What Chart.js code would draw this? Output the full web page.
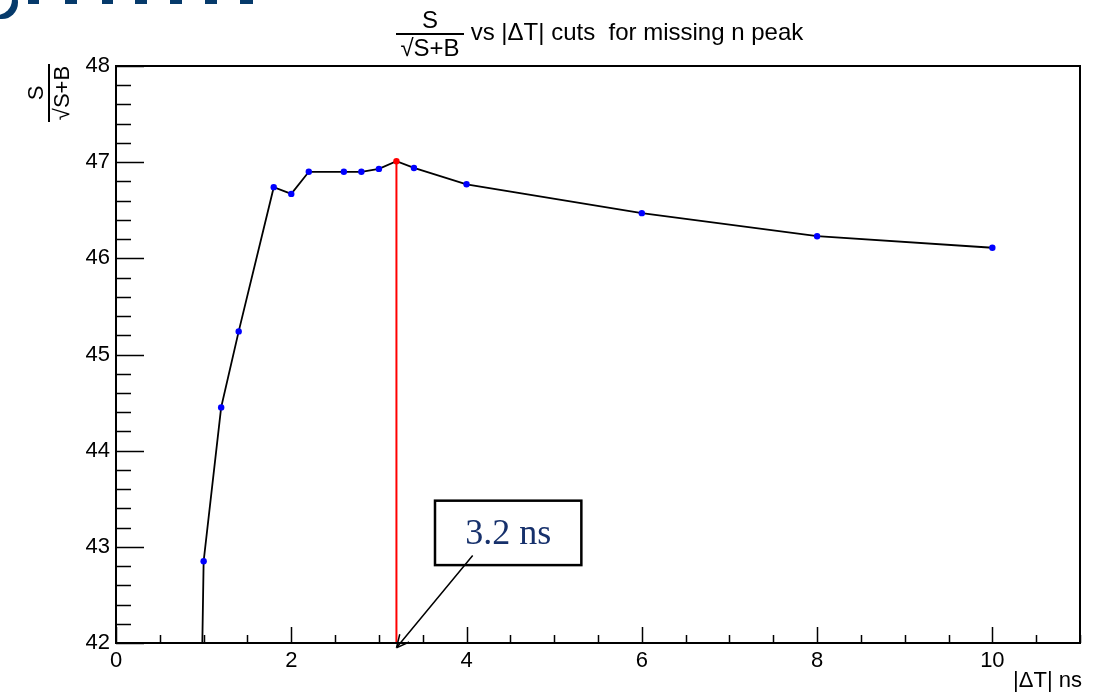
<!DOCTYPE html>
<html>
<head>
<meta charset="utf-8">
<script src="https://cdn.jsdelivr.net/npm/chart.js@4.4.1/dist/chart.umd.min.js"></script>
<style>
  html, body { margin: 0; padding: 0; background: #fff; }
  #wrap { position: relative; width: 1109px; height: 694px; overflow: hidden; font-family: "Liberation Sans", Arial, sans-serif; }
  #chart { position: absolute; left: 0; top: 0; }
  .frac { display: inline-flex; flex-direction: column; align-items: center; vertical-align: middle; line-height: 1; }
  .frac .num { padding: 0 2px 1px; border-bottom: 2px solid #000; width: 100%; text-align: center; }
  .frac .den { padding-top: 1px; }
  #title { position: absolute; left: 396px; top: 8px; font-size: 24px; white-space: pre; color: #000; }
  #title .frac { font-size: 24px; width: 68px; }
  #title .frac .num { padding: 0 0 1px; }
  #ylab { position: absolute; left: 11px; top: 69px; width: 76px; font-size: 22px; transform: rotate(-90deg); transform-origin: center; text-align: center; }
  #xlab { position: absolute; right: 27px; top: 667px; font-size: 22px; }
  .deco { position: absolute; background: #063a6b; }
</style>
</head>
<body>
<div id="wrap">
  <canvas id="chart" width="1109" height="694"></canvas>
  <div id="title"><span class="frac"><span class="num">S</span><span class="den">√S+B</span></span><span> vs |ΔT| cuts  for missing n peak</span></div>
  <div id="ylab"><span class="frac"><span class="num">S</span><span class="den">√S+B</span></span></div>
  <div id="xlab">|ΔT| ns</div>
  <div class="deco" style="left:-18px;top:-16px;width:30px;height:31px;border-radius:50%;background:transparent;box-shadow:5px 3px 0 1px #063a6b;"></div>
  <div class="deco" style="left:28px;top:0;width:11px;height:4px"></div>
  <div class="deco" style="left:65px;top:0;width:12px;height:4px"></div>
  <div class="deco" style="left:102px;top:0;width:11px;height:4px"></div>
  <div class="deco" style="left:135px;top:0;width:12px;height:4px"></div>
  <div class="deco" style="left:170px;top:0;width:12px;height:4px"></div>
  <div class="deco" style="left:205px;top:0;width:12px;height:4px"></div>
  <div class="deco" style="left:240px;top:0;width:13px;height:4px"></div>
</div>
<script>
// |dT| cut values (ns) and S/sqrt(S+B)
const cuts = [0.8, 1.0, 1.2, 1.4, 1.8, 2.0, 2.2, 2.6, 2.8, 3.0, 3.2, 3.4, 4, 6, 8, 10]
const signif = [31.4, 42.85, 44.45, 45.24, 46.74, 46.67, 46.90, 46.90, 46.90, 46.93, 47.01, 46.94, 46.77, 46.47, 46.23, 46.11]
const bestCut = 3.2
const bestValue = 47.01

const xMin = 0, xMax = 11, xStep = 0.5
const yMin = 42, yMax = 48, yStep = 0.2

// text box + arrow in data coordinates
const note = { text: '3.2 ns', x0: 3.64, x1: 5.31, y0: 42.81, y1: 43.48, tailX: 4.07, tailY: 42.91, tipX: 3.2, tipY: 41.95 }

const pts = cuts.map((c, i) => ({ x: c, y: signif[i] }))
const pointColors = cuts.map(c => c === bestCut ? '#ff0000' : '#0000ff')

const isInt = (v, m) => Math.abs(v / m - Math.round(v / m)) < 1e-6

const frameTicks = {
  id: 'frameTicks',
  afterDatasetsDraw(chart) {
    const { ctx, chartArea: a, scales } = chart
    ctx.save()
    ctx.strokeStyle = '#000'
    ctx.lineWidth = 1.5
    ctx.beginPath()
    scales.x.ticks.forEach(t => {
      const px = Math.round(scales.x.getPixelForValue(t.value)) + 0.5
      const len = isInt(t.value, 2) ? 16 : 8
      ctx.moveTo(px, a.bottom); ctx.lineTo(px, a.bottom - len)
    })
    scales.y.ticks.forEach(t => {
      const py = Math.round(scales.y.getPixelForValue(t.value)) + 0.5
      const len = isInt(t.value, 1) ? 28 : 15
      ctx.moveTo(a.left, py); ctx.lineTo(a.left + len, py)
    })
    ctx.stroke()
    ctx.lineWidth = 2
    ctx.strokeRect(a.left, a.top, a.right - a.left, a.bottom - a.top)

    // annotation box
    const x = scales.x, y = scales.y
    const bx0 = x.getPixelForValue(note.x0), bx1 = x.getPixelForValue(note.x1)
    const by0 = y.getPixelForValue(note.y1), by1 = y.getPixelForValue(note.y0)
    ctx.fillStyle = '#fff'
    ctx.fillRect(bx0, by0, bx1 - bx0, by1 - by0)
    ctx.lineWidth = 2.5
    ctx.strokeRect(bx0, by0, bx1 - bx0, by1 - by0)
    ctx.fillStyle = '#16306b'
    ctx.font = '36px "Liberation Serif", "Times New Roman", serif'
    ctx.textAlign = 'center'
    ctx.textBaseline = 'middle'
    ctx.fillText(note.text, (bx0 + bx1) / 2, (by0 + by1) / 2 + 2)

    // arrow
    const tx = x.getPixelForValue(note.tailX), ty = y.getPixelForValue(note.tailY)
    const hx = x.getPixelForValue(note.tipX), hy = y.getPixelForValue(note.tipY)
    ctx.strokeStyle = '#000'
    ctx.lineWidth = 1.5
    ctx.beginPath()
    ctx.moveTo(tx, ty); ctx.lineTo(hx, hy)
    const ang = Math.atan2(hy - ty, hx - tx)
    const hl = 14
    ctx.moveTo(hx, hy); ctx.lineTo(hx - hl * Math.cos(ang - 0.45), hy - hl * Math.sin(ang - 0.45))
    ctx.moveTo(hx, hy); ctx.lineTo(hx - hl * Math.cos(ang + 0.45), hy - hl * Math.sin(ang + 0.45))
    ctx.stroke()
    ctx.restore()
  }
}

const ctx = document.getElementById('chart')
new Chart(ctx, {
  type: 'scatter',
  data: {
    datasets: [
      {
        label: 'best cut',
        data: [{ x: bestCut, y: yMin }, { x: bestCut, y: bestValue }],
        showLine: true,
        borderColor: '#ff0000',
        borderWidth: 2,
        pointRadius: 0,
        order: 2
      },
      {
        label: 'S/sqrt(S+B)',
        data: pts,
        showLine: true,
        borderColor: '#000',
        borderWidth: 1.8,
        tension: 0,
        pointRadius: 3.2,
        pointBorderWidth: 0,
        pointBackgroundColor: pointColors,
        order: 1
      }
    ]
  },
  options: {
    responsive: false,
    devicePixelRatio: 1,
    animation: false,
    layout: { padding: { top: 66, right: 29, left: 0, bottom: 0 } },
    plugins: { legend: { display: false }, tooltip: { enabled: false } },
    scales: {
      x: {
        type: 'linear', min: xMin, max: xMax,
        afterFit: s => { s.height = 51 },
        grid: { display: false, drawTicks: false },
        border: { display: false },
        ticks: {
          stepSize: xStep, autoSkip: false, maxRotation: 0, padding: 5,
          color: '#000', font: { family: '"Liberation Sans", Arial, sans-serif', size: 22 },
          callback: v => isInt(v, 2) && v < xMax ? String(Math.round(v)) : ''
        }
      },
      y: {
        type: 'linear', min: yMin, max: yMax,
        afterFit: s => { s.width = 116 },
        grid: { display: false, drawTicks: false },
        border: { display: false },
        ticks: {
          stepSize: yStep, autoSkip: false, padding: 6,
          color: '#000', font: { family: '"Liberation Sans", Arial, sans-serif', size: 22 },
          callback: v => isInt(v, 1) ? String(Math.round(v)) : ''
        }
      }
    }
  },
  plugins: [frameTicks]
})
</script>
</body>
</html>
